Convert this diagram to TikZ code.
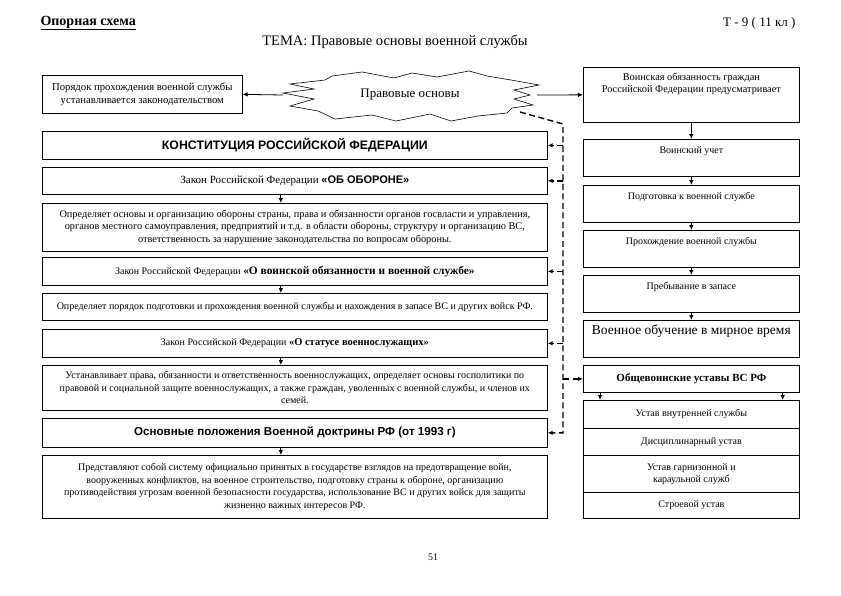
\documentclass[tikz,border=0pt]{standalone}
\usepackage{fontspec}
\setmainfont{Liberation Serif}
\newfontfamily\arialfont{Liberation Sans}
\usetikzlibrary{positioning,arrows.meta}
\tikzset{
  >={Latex[length=5pt,width=4.5pt]},
}
\tikzstyle{box}=[draw,line width=0.7pt,anchor=north west,minimum width=505pt,align=center,inner sep=2pt,font=\fontsize{10}{12.5}\selectfont]
\tikzstyle{rbox}=[draw,line width=0.7pt,anchor=north west,minimum width=216pt,align=center,inner sep=3pt,font=\fontsize{10}{12}\selectfont]
\tikzstyle{rtop}=[rbox,text height=11pt,text depth=20pt]
\tikzstyle{link}=[->,line width=0.8pt]
\tikzstyle{dashlink}=[->,line width=1.4pt,dash pattern=on 6pt off 3.5pt]

\begin{document}
\begin{tikzpicture}[x=1pt,y=-1pt]
    \useasboundingbox (0,0) rectangle (841,595);
    % header
    \node[anchor=west,font=\bfseries\fontsize{14}{16}\selectfont] (scheme) at (37,23) {\underline{Опорная схема}};
    \node[anchor=east,font=\fontsize{13}{15}\selectfont] (grade) at (799,23) {Т - 9 ( 11 кл )};
    \node[font=\fontsize{14.5}{16}\selectfont] (topic) at (395,42) {ТЕМА: Правовые основы военной службы};
    % star
    \draw[line width=0.6pt] (283,93)--(314,89)--(290,84)--(325,80)--(332,76)--(362,72)--(394,78)
      --(412,73)--(437,77)--(469,71)--(487,76)--(511,80)--(539,85)--(514,90)--(530,95)--(514,99)
      --(533,105)--(512,108)--(507,113)--(478,116)--(451,121)--(430,114)--(396,121)--(372,115)
      --(335,119)--(318,111)--(290,106)--(314,99)--cycle;
    \node[font=\fontsize{13}{15}\selectfont] (basis) at (410,95) {Правовые основы};
    \coordinate (starL) at (283,95);
    \coordinate (starR) at (537,95);
    \coordinate (dstart) at (520,112);
    \coordinate (dtop) at (563,124);
    \node[box,minimum width=200pt,minimum height=38pt,font=\fontsize{10.7}{13}\selectfont] (order) at (42,75)
      {Порядок прохождения военной службы\\устанавливается законодательством};
    % left column
    \node[box,minimum height=28pt,font=\arialfont\bfseries\fontsize{12.3}{14}\selectfont] (const) at (42,131)
      {КОНСТИТУЦИЯ РОССИЙСКОЙ ФЕДЕРАЦИИ};
    \node[box,minimum height=27pt,font=\fontsize{11}{13}\selectfont] (defense) at (42,167)
      {Закон Российской Федерации {\arialfont\bfseries «ОБ ОБОРОНЕ»}};
    \node[box,minimum height=48pt,font=\fontsize{10.3}{12.5}\selectfont] (defdesc) at (42,203)
      {Определяет основы  и организацию обороны страны, права и обязанности органов госвласти и управления,\\
       органов местного самоуправления, предприятий и т.д. в области обороны, структуру и организацию ВС,\\
       ответственность за нарушение законодательства по вопросам обороны.};
    \node[box,minimum height=28pt] (dutylaw) at (42,257)
      {Закон Российской Федерации {\bfseries\fontsize{11.4}{13}\selectfont «О воинской обязанности и военной службе»}};
    \node[box,minimum height=27pt] (dutydesc) at (42,293)
      {Определяет порядок подготовки и прохождения военной службы и нахождения в запасе ВС и других войск РФ.};
    \node[box,minimum height=28pt] (status) at (42,329)
      {Закон Российской Федерации {\bfseries\fontsize{10.5}{13}\selectfont «О статусе военнослужащих»}};
    \node[box,minimum height=45pt] (statusdesc) at (42,365)
      {Устанавливает права, обязанности и ответственность военнослужащих, определяет основы госполитики по\\
       правовой и социальной защите военнослужащих, а также граждан, уволенных с военной службы, и членов их\\
       семей.};
    \node[box,minimum height=29pt,font=\arialfont\bfseries\fontsize{11.6}{14}\selectfont] (doctrine) at (42,418)
      {Основные положения Военной доктрины РФ (от 1993 г)};
    \node[box,minimum height=63pt] (doctdesc) at (42,455)
      {Представляют собой систему официально принятых в государстве взглядов на предотвращение войн,\\
       вооруженных конфликтов, на военное строительство, подготовку страны к обороне, организацию\\
       противодействия угрозам военной безопасности государства, использование ВС и других войск для защиты\\
       жизненно важных интересов РФ.};
    % right column
    \node[rbox,minimum height=55pt] (duty) at (583,67) {};
    \node[below=3pt of duty.north,align=center,font=\fontsize{10.3}{12}\selectfont] (dutytext)
      {Воинская обязанность граждан\\Российской Федерации предусматривает};
    \node[rtop] (register) at (583,139) {Воинский учет};
    \node[rtop] (prep) at (583,185) {Подготовка к военной службе};
    \node[rtop] (service) at (583,230) {Прохождение военной службы};
    \node[rtop] (reserve) at (583,275) {Пребывание в запасе};
    \node[rtop,font=\fontsize{13.5}{15}\selectfont] (training) at (583,320) {Военное обучение в мирное время};
    \node[rbox,minimum height=27pt,font=\bfseries\fontsize{11}{13}\selectfont] (regs) at (583,365) {Общевоинские уставы ВС РФ};
    \node[rbox,minimum height=28pt] (charterA) at (583,400) {Устав внутренней службы};
    \node[rbox,minimum height=27pt] (charterB) at (583,428) {Дисциплинарный устав};
    \node[rbox,minimum height=37pt] (charterC) at (583,455) {Устав гарнизонной и\\караульной служб};
    \node[rbox,minimum height=26pt] (charterD) at (583,492) {Строевой устав};
    \node[font=\fontsize{10}{12}\selectfont] (page) at (433,557) {51};
    % arrows
    \draw[link] (starL) -- (order.east);
    \draw[link] (starR) -- (duty.west);
    \draw[link] ([xshift=-14pt]defense.south) -- ([xshift=-14pt]defdesc.north);
    \draw[link] ([xshift=-14pt]dutylaw.south) -- ([xshift=-14pt]dutydesc.north);
    \draw[link] ([xshift=-14pt]status.south) -- ([xshift=-14pt]statusdesc.north);
    \draw[link] ([xshift=-14pt]doctrine.south) -- ([xshift=-14pt]doctdesc.north);
    \draw[link] (duty.south) -- (register.north);
    \draw[link] (register.south) -- (prep.north);
    \draw[link] (prep.south) -- (service.north);
    \draw[link] (service.south) -- (reserve.north);
    \draw[link] (reserve.south) -- (training.north);
    \draw[link] ([xshift=17pt]regs.south west) -- ([xshift=17pt]charterA.north west);
    \draw[link] ([xshift=-17pt]regs.south east) -- ([xshift=-17pt]charterA.north east);
    % dashed links
    \draw[dashlink] (dstart) -- (dtop) -- (dtop |- doctrine.east) -- (doctrine.east);
    \draw[dashlink] (dtop |- const.east) -- (const.east);
    \draw[dashlink] (dtop |- defense.east) -- (defense.east);
    \draw[dashlink] (dtop |- dutylaw.east) -- (dutylaw.east);
    \draw[dashlink] (dtop |- status.east) -- (status.east);
    \draw[dashlink] (dtop |- regs.west) -- (regs.west);
  \end{tikzpicture}
\end{document}
